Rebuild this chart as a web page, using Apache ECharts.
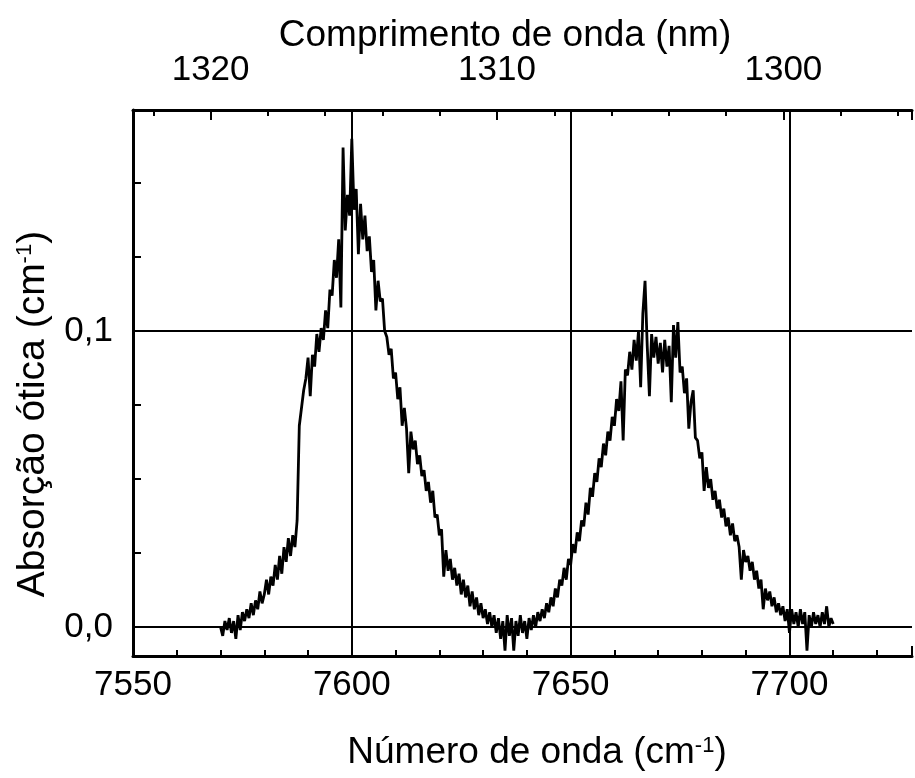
<!DOCTYPE html>
<html>
<head>
<meta charset="utf-8">
<script src="https://cdn.jsdelivr.net/npm/echarts@6/dist/echarts.min.js"></script>
<style>
  html, body { margin: 0; padding: 0; background: #fff; }
  #main { width: 915px; height: 778px; }
</style>
</head>
<body>
<div id="main"></div>
<script>
// 数据：吸收谱，波数从 7570 开始，每 0.5 cm-1 一个点
var waveStart = 7570;
var waveStep = 0.5;
var absorcao = [
    0.000, -0.003, 0.002, -0.001, 0.003, -0.002, 0.002, -0.004, 0.004, -0.001,
    0.005, 0.002, 0.006, 0.003, 0.008, 0.004, 0.009, 0.006, 0.012, 0.008,
    0.011, 0.016, 0.011, 0.017, 0.014, 0.021, 0.016, 0.024, 0.018, 0.027,
    0.022, 0.030, 0.024, 0.031, 0.027, 0.036, 0.068, 0.074, 0.080, 0.084,
    0.091, 0.078, 0.092, 0.088, 0.099, 0.093, 0.101, 0.097, 0.107, 0.101,
    0.114, 0.112, 0.124, 0.118, 0.131, 0.108, 0.162, 0.134, 0.146, 0.139,
    0.165, 0.141, 0.148, 0.126, 0.143, 0.131, 0.139, 0.127, 0.132, 0.120,
    0.124, 0.107, 0.117, 0.110, 0.111, 0.100, 0.098, 0.092, 0.094, 0.084,
    0.086, 0.077, 0.081, 0.068, 0.074, 0.067, 0.052, 0.066, 0.060, 0.063,
    0.055, 0.058, 0.051, 0.053, 0.046, 0.049, 0.042, 0.046, 0.037, 0.038,
    0.031, 0.033, 0.017, 0.026, 0.019, 0.023, 0.016, 0.020, 0.014, 0.018,
    0.011, 0.016, 0.010, 0.014, 0.007, 0.012, 0.006, 0.010, 0.004, 0.008,
    0.003, 0.006, 0.001, 0.005, 0.000, 0.004, -0.002, 0.003, -0.004, 0.002,
    -0.008, 0.004, -0.003, 0.003, -0.008, 0.002, -0.003, 0.004, -0.002, 0.002,
    -0.004, 0.003, -0.001, 0.004, 0.000, 0.005, 0.002, 0.006, 0.003, 0.008,
    0.005, 0.010, 0.007, 0.013, 0.010, 0.016, 0.014, 0.020, 0.016, 0.023,
    0.021, 0.028, 0.025, 0.032, 0.029, 0.036, 0.034, 0.042, 0.038, 0.047,
    0.044, 0.052, 0.049, 0.057, 0.054, 0.062, 0.058, 0.066, 0.063, 0.071,
    0.068, 0.077, 0.073, 0.083, 0.063, 0.087, 0.085, 0.093, 0.087, 0.097,
    0.090, 0.100, 0.081, 0.106, 0.117, 0.095, 0.078, 0.099, 0.091, 0.098,
    0.089, 0.096, 0.086, 0.097, 0.088, 0.095, 0.076, 0.102, 0.091, 0.103,
    0.086, 0.088, 0.079, 0.084, 0.067, 0.076, 0.080, 0.064, 0.063, 0.057,
    0.059, 0.046, 0.054, 0.047, 0.050, 0.043, 0.046, 0.040, 0.043, 0.037,
    0.040, 0.034, 0.037, 0.031, 0.035, 0.029, 0.031, 0.027, 0.016, 0.026,
    0.022, 0.024, 0.019, 0.022, 0.016, 0.019, 0.013, 0.016, 0.006, 0.013,
    0.009, 0.012, 0.007, 0.010, 0.005, 0.008, 0.004, 0.007, 0.002, 0.006,
    -0.002, 0.006, 0.001, 0.005, 0.000, 0.006, 0.001, 0.005, -0.008, 0.004,
    0.000, 0.005, 0.001, 0.004, 0.000, 0.005, 0.001, 0.007, 0.000, 0.003,
    0.001
];
// 坐标轴范围与刻度
var numeroRange = [7550, 7728];
var numeroTicks = [7550, 7600, 7650, 7700];
var comprimentoRange = [1295.51, 1322.71];
var comprimentoTicks = [1300, 1310, 1320];
var absorcaoRange = [-0.0098, 0.1747];
var absorcaoTicks = [0.0, 0.1];

var fonte = '"Liberation Sans", Arial, sans-serif';

var pontos = absorcao.map(function (v, i) {
    return [waveStart + i * waveStep, v];
});

function isTick(list, v) {
    return list.some(function (t) { return Math.abs(t - v) < 1e-6; });
}

var myChart = echarts.init(document.getElementById('main'));
var option = {
    animation: false,
    backgroundColor: '#fff',
    grid: {
        left: 133,
        right: 0,
        top: 110,
        bottom: 122,
        containLabel: false
    },
    graphic: [
        {
            type: 'text',
            x: 505, y: 36,
            style: {
                text: 'Comprimento de onda (nm)',
                fontSize: 37, fontFamily: fonte, fill: '#000',
                align: 'center', verticalAlign: 'middle',
                textAlign: 'center', textVerticalAlign: 'middle'
            }
        },
        {
            type: 'text',
            x: 537, y: 753,
            style: {
                text: 'Número de onda (cm{sup|-1})',
                fontSize: 37, fontFamily: fonte, fill: '#000',
                align: 'center', verticalAlign: 'middle',
                textAlign: 'center', textVerticalAlign: 'middle',
                rich: {
                    sup: { fontSize: 22, fontFamily: fonte, verticalAlign: 'top', fill: '#000' }
                }
            }
        },
        {
            type: 'text',
            x: 33, y: 414,
            rotation: Math.PI / 2,
            style: {
                text: 'Absorção ótica (cm{sup|-1})',
                fontSize: 39, fontFamily: fonte, fill: '#000',
                align: 'center', verticalAlign: 'middle',
                textAlign: 'center', textVerticalAlign: 'middle',
                rich: {
                    sup: { fontSize: 22, fontFamily: fonte, verticalAlign: 'top', fill: '#000' }
                }
            }
        }
    ],
    xAxis: [
        {
            type: 'value',
            position: 'bottom',
            min: numeroRange[0],
            max: numeroRange[1],
            interval: 50,
            axisLine: { show: true, onZero: false, lineStyle: { color: '#000', width: 3 } },
            axisTick: { show: true, inside: true, length: 10, lineStyle: { color: '#000', width: 2 } },
            minorTick: { show: true, splitNumber: 5, length: 6, lineStyle: { color: '#000', width: 2 } },
            splitLine: { show: false },
            axisLabel: {
                margin: 12,
                fontSize: 35, fontFamily: fonte, color: '#000',
                formatter: function (v) { return isTick(numeroTicks, v) ? String(v) : ''; }
            }
        },
        {
            type: 'value',
            position: 'top',
            inverse: true,
            min: comprimentoRange[0],
            max: comprimentoRange[1],
            splitNumber: 3,
            axisLine: { show: true, onZero: false, lineStyle: { color: '#000', width: 3 } },
            axisTick: { show: true, inside: true, length: 10, lineStyle: { color: '#000', width: 2 } },
            minorTick: { show: true, splitNumber: 5, length: 6, lineStyle: { color: '#000', width: 2 } },
            splitLine: { show: false },
            axisLabel: {
                margin: 22,
                fontSize: 35, fontFamily: fonte, color: '#000',
                formatter: function (v) { return isTick(comprimentoTicks, v) ? String(Math.round(v)) : ''; }
            }
        }
    ],
    yAxis: {
        type: 'value',
        min: absorcaoRange[0],
        max: absorcaoRange[1],
        splitNumber: 2,
        axisLine: { show: true, onZero: false, lineStyle: { color: '#000', width: 3 } },
        axisTick: { show: true, inside: true, length: 10, lineStyle: { color: '#000', width: 2 } },
        minorTick: { show: true, splitNumber: 4, length: 8, lineStyle: { color: '#000', width: 2 } },
        splitLine: { show: true, lineStyle: { color: '#000', width: 2 } },
        axisLabel: {
            margin: 20,
            fontSize: 35, fontFamily: fonte, color: '#000',
            formatter: function (v) {
                return isTick(absorcaoTicks, v) ? v.toFixed(1).replace('.', ',') : '';
            }
        }
    },
    series: [
        {
            type: 'line',
            xAxisIndex: 0,
            data: pontos,
            showSymbol: false,
            symbol: 'none',
            sampling: null,
            lineStyle: { color: '#000', width: 2.8 },
            z: 3,
            // 竖直网格线，位于底部刻度处
            markLine: {
                silent: true,
                symbol: 'none',
                label: { show: false },
                lineStyle: { color: '#000', width: 2, type: 'solid' },
                data: numeroTicks.slice(1).map(function (t) { return { xAxis: t }; })
            }
        }
    ]
};
myChart.setOption(option);
</script>
</body>
</html>
